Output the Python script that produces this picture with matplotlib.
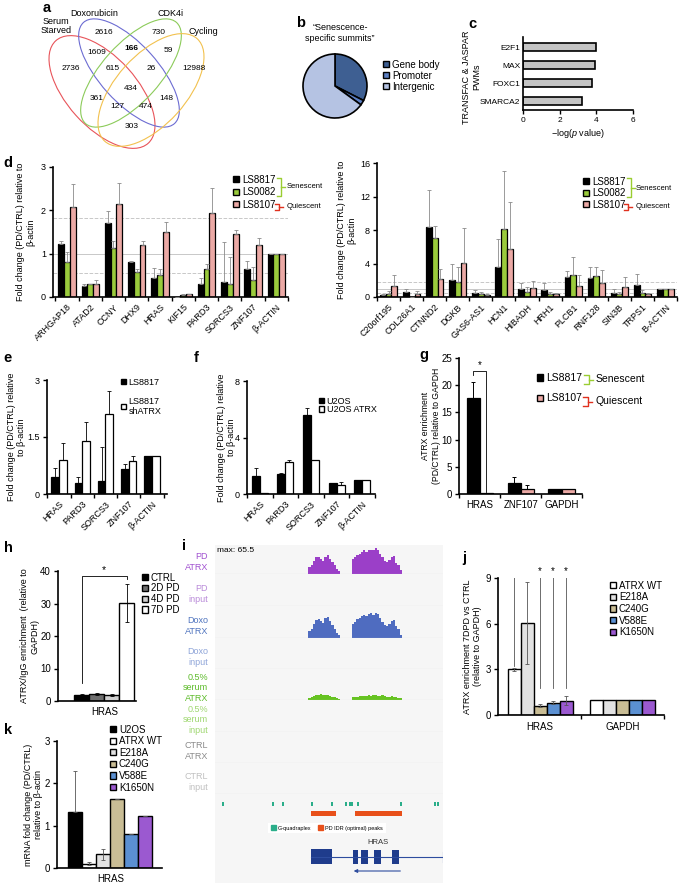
import numpy as np
import matplotlib
matplotlib.use("Agg")
import matplotlib.pyplot as plt
from matplotlib.patches import Ellipse, Patch

plt.rcParams["font.family"] = ["Liberation Sans", "DejaVu Sans"]
plt.rcParams["font.size"] = 6.5
plt.rcParams["axes.linewidth"] = 1.2
plt.rcParams["mathtext.fontset"] = "custom"
plt.rcParams["mathtext.it"] = "Liberation Sans:italic"
plt.rcParams["mathtext.rm"] = "Liberation Sans"

W, H = 685, 883

# ---------------- data ----------------
# a: venn
venn_sets = ["Serum\nStarved", "Doxorubicin", "CDK4i", "Cycling"]
venn_counts = [2616, 730, 1609, 166, 59, 2736, 615, 26, 12988, 434, 361, 148, 127, 474, 303]

# b: pie
pie_labels = ["Gene body", "Promoter", "Intergenic"]
pie_values = [32.5, 2.5, 65.0]

# c: motifs
pwm_names = ["E2F1", "MAX", "FOXC1", "SMARCA2"]
pwm_logp = [3.97, 3.92, 3.78, 3.2]

# d left
d1_genes = ["ARHGAP18", "ATAD2", "CCNY", "DHX9", "HRAS", "KIF15", "PARD3", "SORCS3", "ZNF107", "β-ACTIN"]
d1_ls8817 = [1.22, 0.26, 1.70, 0.80, 0.44, 0.01, 0.30, 0.34, 0.64, 1.0]
d1_ls0082 = [0.80, 0.29, 1.14, 0.57, 0.50, 0.05, 0.65, 0.29, 0.39, 1.0]
d1_ls8107 = [2.07, 0.31, 2.14, 1.21, 1.50, 0.06, 1.95, 1.45, 1.21, 1.0]
d1_err8817 = [0.08, 0.03, 0.28, 0.02, 0.24, 0.0, 0.15, 0.92, 0.18, 0.0]
d1_err0082 = [0.25, 0.02, 0.15, 0.07, 0.15, 0.01, 0.12, 0.64, 0.30, 0.0]
d1_err8107 = [0.53, 0.08, 0.48, 0.09, 0.24, 0.01, 0.57, 0.10, 0.15, 0.0]

# d right
d2_genes = ["C20orf195", "COL26A1", "CTNND2", "DGKB", "GAS6-AS1", "HCN1", "HIBADH",
            "HRH1", "PLCB1", "RNF128", "SIN3B", "TRPS1", "B-ACTIN"]
d2_ls8817 = [0.2, 0.55, 8.4, 2.0, 0.5, 3.6, 0.9, 0.85, 2.4, 2.25, 0.5, 1.4, 1.0]
d2_ls0082 = [0.4, 0.0, 7.1, 1.8, 0.35, 8.1, 0.65, 0.35, 2.6, 2.45, 0.35, 0.45, 0.95]
d2_ls8107 = [1.3, 0.4, 2.1, 4.1, 0.25, 5.7, 1.05, 0.3, 1.35, 1.65, 1.2, 0.3, 0.95]
d2_err8817 = [0.1, 0.45, 4.4, 1.9, 0.35, 3.3, 0.8, 0.8, 0.7, 1.3, 0.4, 1.3, 0.0]
d2_err0082 = [0.35, 0.0, 1.4, 1.8, 0.2, 7.0, 0.6, 0.3, 2.2, 1.1, 0.3, 0.4, 0.0]
d2_err8107 = [1.3, 0.3, 1.2, 4.1, 0.15, 5.6, 0.9, 0.2, 1.3, 1.6, 1.2, 0.2, 0.0]

# e
e_genes = ["HRAS", "PARD3", "SORCS3", "ZNF107", "β-ACTIN"]
e_ls8817 = [0.44, 0.30, 0.35, 0.65, 1.0]
e_err8817 = [0.24, 0.15, 0.90, 0.15, 0.0]
e_shatrx = [0.90, 1.40, 2.10, 0.88, 1.0]
e_errsh = [0.43, 0.50, 0.62, 0.12, 0.0]

# f
f_genes = ["HRAS", "PARD3", "SORCS3", "ZNF107", "β-ACTIN"]
f_u2os = [1.30, 1.45, 5.60, 0.80, 1.0]
f_erru2os = [0.55, 0.05, 0.50, 0.0, 0.0]
f_atrx = [0.10, 2.30, 2.40, 0.65, 1.0]
f_erratrx = [0.0, 0.12, 0.0, 0.20, 0.0]

# g
g_genes = ["HRAS", "ZNF107", "GAPDH"]
g_ls8817 = [17.6, 2.1, 1.0]
g_err8817 = [2.9, 1.0, 0.0]
g_ls8107 = [0.25, 1.0, 1.0]
g_err8107 = [0.0, 0.7, 0.0]

# h
h_conds = ["CTRL", "2D PD", "4D PD", "7D PD"]
h_vals = [1.9, 2.1, 1.8, 30.2]
h_errs = [0.3, 0.3, 0.4, 5.8]

# i: genome tracks (signal per bin, 100 bins across the locus)
track_names = ["PD\nATRX", "PD\ninput", "Doxo\nATRX", "Doxo\ninput", "0.5%\nserum\nATRX",
               "0.5%\nserum\ninput", "CTRL\nATRX", "CTRL\ninput"]
pd_atrx_p1 = [19, 24, 34, 43, 43, 40, 34, 45, 49, 39, 30, 22, 12, 8]
pd_atrx_p2 = [39, 44, 49, 53, 58, 61, 58, 61, 63, 61, 66, 63, 53, 44, 34, 32, 36, 44, 46, 29, 24, 10]
doxo_atrx_p1 = [17, 24, 36, 46, 50, 45, 40, 52, 55, 44, 34, 24, 12, 8]
doxo_atrx_p2 = [37, 42, 48, 53, 57, 60, 58, 62, 64, 60, 65, 63, 52, 42, 33, 30, 36, 45, 47, 30, 22, 9]
serum_atrx_p1 = [6, 9, 11, 13, 14, 15, 14, 13, 12, 11, 9, 7, 5, 3]
serum_atrx_p2 = [7, 8, 9, 10, 10, 11, 11, 12, 11, 12, 12, 11, 11, 12, 10, 9, 9, 10, 9, 8, 6, 4]
peak1_start, peak2_start = 41, 60
g4_bins = [3.5, 25.4, 29.8, 42.5, 51.3, 57.5, 59.2, 60.1, 62.7, 81.6, 96.5, 97.8]
idr_peaks = [(42.1, 53.1), (61.4, 82.0)]
hras_exons = [(42.1, 51.3), (60.5, 62.7), (64.0, 67.1), (69.7, 72.8), (77.6, 80.7)]

# j
j_variants = ["ATRX WT", "E218A", "C240G", "V588E", "K1650N"]
j_genes = ["HRAS", "GAPDH"]
j_hras = [3.0, 6.05, 0.6, 0.8, 0.95]
j_hras_err = [0.1, 2.7, 0.1, 0.1, 0.3]
j_gapdh = [1.0, 1.0, 1.0, 1.0, 1.0]

# k
k_conds = ["U2OS", "ATRX WT", "E218A", "C240G", "V588E", "K1650N"]
k_vals = [1.33, 0.1, 0.32, 1.62, 0.8, 1.24]
k_err_lo = [0.0, 0.03, 0.12, 0.0, 0.0, 0.0]
k_err_hi = [0.97, 0.03, 0.12, 0.0, 0.0, 0.0]

# ---------------- style ----------------
GREEN = "#9ACB3C"
PINK = "#EBA9A5"
BR_GREEN = "#9ACD32"
BR_RED = "#E0301E"
VAR_COLORS = ["white", "#E2E2E2", "#C9BD95", "#5B90D2", "#9B59D0"]

fig = plt.figure(figsize=(6.85, 8.83), dpi=100)


def axbox(x0, y0, x1, y1):
    return fig.add_axes([x0 / W, 1 - y1 / H, (x1 - x0) / W, (y1 - y0) / H])


def style(ax, fs=6.5):
    for s in ["top", "right"]:
        ax.spines[s].set_visible(False)
    ax.tick_params(direction="out", length=3, width=1, labelsize=fs, pad=2)
    ax.set_facecolor("none")


def square_legend(ax, labels, colors, x, y, dy, fs=6.5, sq=6.0):
    fpx = fs * 100 / 72
    handles = [Patch(facecolor=c, edgecolor="black", linewidth=1.0) for c in colors]
    th = 1.12 * fpx
    return ax.legend(handles, labels, loc="upper left",
                     bbox_to_anchor=(x / W, 1 - (y - th / 2) / H),
                     bbox_transform=fig.transFigure, frameon=False, fontsize=fs,
                     handlelength=sq / fpx, handleheight=sq / fpx, handletextpad=0.3,
                     labelspacing=dy / fpx - 1.12, borderpad=0, borderaxespad=0)


def grouped(ax, series, errs, colors, w, ecolor="black", elw=0.6):
    n = len(series)
    x = np.arange(len(series[0]))
    for k in range(n):
        pos = x + (k - (n - 1) / 2) * w
        ax.bar(pos, series[k], w, color=colors[k], edgecolor="black", linewidth=0.9, zorder=2)
        e = np.asarray(errs[k])
        ax.errorbar(pos, series[k], yerr=[np.zeros_like(e), e], fmt="none", ecolor=ecolor,
                    elinewidth=elw, capsize=1.3, capthick=elw, zorder=3)
    return x


def cat_ticks(ax, x, labels, rot=45, fs=6.5):
    ax.set_xticks(x)
    ax.set_xticklabels(labels, rotation=rot, ha="right" if rot else "center",
                       rotation_mode="anchor", fontsize=fs)
    ax.tick_params(axis="x", which="major", length=0, pad=4)
    ax.set_xticks(np.append(x - 0.5, x[-1] + 0.5), minor=True)
    ax.tick_params(axis="x", which="minor", length=3, width=1)


# ---------------- b: pie ----------------
axb = axbox(295, 46, 375, 126)
axb.pie(pie_values, colors=["#3E5F92", "#5C7FC2", "#B5C3E3"], startangle=90, counterclock=False,
        wedgeprops=dict(edgecolor="black", linewidth=1.2))
axb.set_aspect("equal")
square_legend(axb, pie_labels, ["#3E5F92", "#5C7FC2", "#B5C3E3"], 383, 65, 12, fs=7, sq=6)

# ---------------- c ----------------
axc = axbox(523, 37, 633, 110)
style(axc, fs=6)
yy = np.arange(len(pwm_names))[::-1]
axc.barh(yy, pwm_logp, 0.45, color="#C4C4C4", edgecolor="black", linewidth=1.2)
axc.set_xlim(0, 6)
axc.set_ylim(-0.5, 3.56)
axc.set_xticks([0, 2, 4, 6])
axc.set_yticks(yy)
axc.set_yticklabels(pwm_names)
axc.tick_params(axis="y", length=0)
axc.set_xlabel("−log($\\it{p}$ value)", fontsize=6.5, labelpad=2)
axc.set_ylabel("TRANSFAC & JASPAR\nPWMs", fontsize=6.5)
axc.yaxis.set_label_coords(-0.38, 0.45)

# ---------------- d left ----------------
axd1 = axbox(53, 167, 288, 297)
style(axd1)
for yv, ls in [(1.83, "--"), (1.0, "-"), (0.56, "--")]:
    axd1.axhline(yv, color="#C8C8C8", lw=0.7, ls=ls, zorder=0)
x = grouped(axd1, [d1_ls8817, d1_ls0082, d1_ls8107], [d1_err8817, d1_err0082, d1_err8107],
            ["black", GREEN, PINK], 0.25, ecolor="#8A8A8A")
axd1.set_xlim(-0.6, 9.4)
axd1.set_ylim(0, 3)
axd1.set_yticks([0, 1, 2, 3])
cat_ticks(axd1, x, d1_genes)
axd1.set_ylabel("Fold change (PD/CTRL) relative to\nβ-actin", fontsize=6.5)
axd1.yaxis.set_label_coords(-0.077, 0.5)
square_legend(axd1, ["LS8817", "LS0082", "LS8107"], ["black", GREEN, PINK], 233, 180, 13.5, fs=7)

# ---------------- d right ----------------
axd2 = axbox(377, 163, 677, 297)
style(axd2)
for yv, ls in [(1.8, "--"), (1.0, "-"), (0.5, "--")]:
    axd2.axhline(yv, color="#C8C8C8", lw=0.7, ls=ls, zorder=0)
x = grouped(axd2, [d2_ls8817, d2_ls0082, d2_ls8107], [d2_err8817, d2_err0082, d2_err8107],
            ["black", GREEN, PINK], 0.25, ecolor="#8A8A8A")
axd2.set_xlim(-0.47, 12.4)
axd2.set_ylim(0, 16)
axd2.set_yticks([0, 4, 8, 12, 16])
cat_ticks(axd2, x, d2_genes)
axd2.set_ylabel("Fold change (PD/CTRL) relative to\nβ-actin", fontsize=6.5)
axd2.yaxis.set_label_coords(-0.07, 0.5)
square_legend(axd2, ["LS8817", "LS0082", "LS8107"], ["black", GREEN, PINK], 583, 182, 12.5, fs=7)

# ---------------- e ----------------
axe = axbox(47, 380, 167, 494)
style(axe)
x = grouped(axe, [e_ls8817, e_shatrx], [e_err8817, e_errsh], ["black", "white"], 0.33)
axe.set_xlim(-0.52, 4.65)
axe.set_ylim(0, 3)
axe.set_yticks([0, 1.5, 3])
axe.set_yticklabels(["0", "1.5", "3"])
cat_ticks(axe, x, e_genes)
axe.set_ylabel("Fold change (PD/CTRL) relative\nto β-actin", fontsize=6.5)
axe.yaxis.set_label_coords(-0.175, 0.5)
square_legend(axe, ["LS8817", "LS8817\nshATRX"], ["black", "white"], 121, 383, 19.7, fs=6.5, sq=5)

# ---------------- f ----------------
axf = axbox(247, 381, 375, 494)
style(axf)
x = grouped(axf, [f_u2os, f_atrx], [f_erru2os, f_erratrx], ["black", "white"], 0.31)
axf.set_xlim(-0.5, 4.5)
axf.set_ylim(0, 8)
axf.set_yticks([0, 4, 8])
cat_ticks(axf, x, f_genes)
axf.set_ylabel("Fold change (PD/CTRL) relative\nto β-actin", fontsize=6.5)
axf.yaxis.set_label_coords(-0.085, 0.5)
square_legend(axf, ["U2OS", "U2OS ATRX"], ["black", "white"], 319, 402, 9.5, fs=6.5, sq=5)

# ---------------- g ----------------
axg = axbox(459, 358, 582, 494)
style(axg, fs=7)
x = grouped(axg, [g_ls8817, g_ls8107], [g_err8817, g_err8107], ["black", PINK], 0.32, elw=0.7)
axg.set_xlim(-0.51, 2.5)
axg.set_ylim(0, 25)
axg.set_yticks([0, 5, 10, 15, 20, 25])
cat_ticks(axg, x, g_genes, rot=0, fs=7)
axg.set_ylabel("ATRX enrichment\n(PD/CTRL) relative to GAPDH", fontsize=6.2)
axg.yaxis.set_label_coords(-0.15, 0.5)
axg.plot([-0.16, -0.16, 0.16, 0.16], [21.8, 22.6, 22.6, 0.4], color="black", lw=0.6)
axg.text(0.0, 22.7, "*", ha="center", va="bottom", fontsize=7)
square_legend(axg, ["LS8817", "LS8107"], ["black", PINK], 537, 379, 22, fs=7.5, sq=6)

# ---------------- h ----------------
axh = axbox(58, 571, 136, 701)
style(axh, fs=7)
hx = np.arange(len(h_conds))
h_cols = ["black", "#6E6E6E", "#D0D0D0", "white"]
axh.bar(hx, h_vals, 1.0, color=h_cols, edgecolor="black", linewidth=1.0, zorder=2)
axh.errorbar(hx, h_vals, yerr=h_errs, fmt="none", ecolor="black", elinewidth=0.6,
             capsize=1.5, capthick=0.6, zorder=3)
axh.set_xlim(-1.57, 3.6)
axh.set_ylim(0, 40)
axh.set_yticks([0, 10, 20, 30, 40])
axh.set_xticks([1.5])
axh.set_xticklabels(["HRAS"], fontsize=7)
axh.tick_params(axis="x", length=0, pad=4)
axh.set_ylabel("ATRX/IgG enrichment  (relative to\nGAPDH)", fontsize=6.5)
axh.yaxis.set_label_coords(-0.24, 0.5)
axh.plot([0, 0, 3, 3], [5.5, 38.5, 38.5, 37.5], color="black", lw=0.6)
axh.text(1.5, 38.7, "*", ha="center", va="bottom", fontsize=7.5)
square_legend(axh, h_conds, h_cols, 142, 578, 11.7, fs=7, sq=6)

# ---------------- i: tracks ----------------
track_signals = []
for p1, p2 in [(pd_atrx_p1, pd_atrx_p2), (None, None), (doxo_atrx_p1, doxo_atrx_p2), (None, None),
               (serum_atrx_p1, serum_atrx_p2), (None, None), (None, None), (None, None)]:
    s = np.zeros(100)
    if p1 is not None:
        s[peak1_start:peak1_start + len(p1)] = p1
        s[peak2_start:peak2_start + len(p2)] = p2
    track_signals.append(s)
fill_cols = ["#9B3FC8", "#B98AD9", "#4F6CC0", "#8EA4D8", "#66C322", "#A4D874", "#8A8A8A", "#BBBBBB"]
label_cols = ["#A050D0", "#B98AD9", "#4E73BE", "#8EA4D8", "#5DBB2A", "#9FD770", "#8A8A8A", "#C0C0C0"]
baselines = [574, 606, 638, 669, 700, 732, 763, 794]
axi_bg = axbox(215, 545, 443, 883)
axi_bg.set_facecolor("#F6F6F6")
axi_bg.set_xticks([])
axi_bg.set_yticks([])
for s in axi_bg.spines.values():
    s.set_visible(False)
for k, (sig, yb) in enumerate(zip(track_signals, baselines)):
    ax = axbox(215, yb - 29, 443, yb)
    ax.bar(np.arange(100), sig, 1.0, color=fill_cols[k], linewidth=0, align="edge")
    ax.axhline(0, color="#CFCFCF", lw=0.8)
    ax.set_xlim(0, 100)
    ax.set_ylim(0, 75)
    ax.axis("off")
    if k == 0:
        ax.text(1, 62, "max: 65.5", fontsize=6, va="center")

axa = axbox(215, 795, 443, 883)
axa.set_xlim(0, 100)
axa.set_ylim(883, 795)
axa.axis("off")
for gx in g4_bins:
    axa.bar(gx, 4, 0.9, bottom=802, color="#2BAE8A", linewidth=0)
for a0, a1 in idr_peaks:
    axa.bar(a0, 5, a1 - a0, bottom=811, color="#E8501A", linewidth=0, align="edge")
axa.plot([hras_exons[0][0], 100], [857, 857], color="#2D4C9E", lw=0.8)
axa.plot([100, 100], [852, 862], color="#2D4C9E", lw=0.8)
for a0, a1 in hras_exons:
    axa.bar(a0, 15 if a0 < 50 else 14, a1 - a0, bottom=849 if a0 < 50 else 850,
            color="#1F3C8C", linewidth=0, align="edge")
axa.annotate("", xy=(59.6, 871), xytext=(82.5, 871),
             arrowprops=dict(arrowstyle="-|>", color="#2D4C9E", lw=0.8, mutation_scale=5))
axa.text(71.5, 843, "HRAS", fontsize=5.5, ha="center", va="center", color="#333333")
axa.legend([Patch(color="#2BAE8A"), Patch(color="#E8501A")],
           ["G-quadraplex", "PD IDR (optimal) peaks"], ncol=2, loc="center",
           bbox_to_anchor=(327 / W, 1 - 828 / H), bbox_transform=fig.transFigure,
           fontsize=4, handlelength=0.9, handleheight=0.9, handletextpad=0.4,
           columnspacing=1.2, frameon=True, facecolor="white", edgecolor="none",
           framealpha=1, fancybox=False, borderpad=0.5)

# ---------------- j ----------------
axj = axbox(498, 578, 664, 715)
style(axj, fs=7)
wj = 0.157
for k in range(len(j_variants)):
    pos = np.array([0, 1]) + (k - 2) * wj
    axj.bar(pos, [j_hras[k], j_gapdh[k]], wj, color=VAR_COLORS[k], edgecolor="black",
            linewidth=1.0, zorder=2)
    axj.errorbar(pos[0], j_hras[k], yerr=j_hras_err[k], fmt="none", ecolor="#555555",
                 elinewidth=0.6, capsize=1.3, capthick=0.6, zorder=3)
axj.set_xlim(-0.51, 1.5)
axj.set_ylim(0, 9)
axj.set_yticks([0, 3, 6, 9])
axj.set_xticks([0, 1])
axj.set_xticklabels(j_genes, fontsize=7)
axj.tick_params(axis="x", which="major", length=0, pad=5)
axj.set_xticks([0.5, 1.5], minor=True)
axj.tick_params(axis="x", which="minor", length=3, width=1)
axj.set_ylabel("ATRX enrichment 7DPD vs CTRL\n(relative to GAPDH)", fontsize=6.5)
axj.yaxis.set_label_coords(-0.096, 0.5)
axj.plot([-2 * wj, -2 * wj, 2 * wj], [3.2, 9.05, 9.05], color="#555555", lw=0.6)
for k in (2, 3, 4):
    axj.plot([(k - 2) * wj] * 2, [9.05, 1.75], color="#555555", lw=0.6)
    axj.text((k - 2) * wj, 9.15, "*", ha="center", va="bottom", fontsize=7)
square_legend(axj, j_variants, VAR_COLORS, 610, 586, 12.6, fs=7, sq=6)

# ---------------- k ----------------
axk = axbox(57, 741, 162, 868)
style(axk, fs=7)
kx = np.arange(len(k_conds))
k_cols = ["black"] + VAR_COLORS
axk.bar(kx, k_vals, 1.0, color=k_cols, edgecolor="black", linewidth=1.0, zorder=2)
axk.errorbar(kx, k_vals, yerr=[k_err_lo, k_err_hi], fmt="none", ecolor="#555555",
             elinewidth=0.6, capsize=1.5, capthick=0.6, zorder=3)
axk.set_xlim(-1.32, 6.18)
axk.set_ylim(0, 3)
axk.set_yticks([0, 1, 2, 3])
axk.set_xticks([2.5])
axk.set_xticklabels(["HRAS"], fontsize=7)
axk.tick_params(axis="x", length=0, pad=4)
axk.set_ylabel("mRNA fold change (PD/CTRL)\nrelative to β-actin", fontsize=6.5)
axk.yaxis.set_label_coords(-0.13, 0.5)
square_legend(axk, k_conds, k_cols, 110, 730, 12.5, fs=7, sq=6)

# ---------------- overlay: venn, letters, brackets, labels ----------------
ov = fig.add_axes([0, 0, 1, 1])
ov.set_xlim(0, W)
ov.set_ylim(H, 0)
ov.axis("off")
ov.set_facecolor("none")

for (cx, cy, ew, eh, ang, col) in [(102, 92, 138, 70, 48, "#E8545A"), (129, 73, 136, 58, 48, "#6C6CD2"),
                                    (131, 73, 136, 58, -48, "#8CCB5A"), (151, 90, 138, 70, -48, "#F2C14E")]:
    ov.add_patch(Ellipse((cx, cy), ew, eh, angle=ang, fill=False, edgecolor=col, lw=0.8))
venn_pos = [(104, 32), (159, 32), (97, 52), (131, 49), (168, 51), (71, 69), (113, 69), (151, 69),
            (194, 69), (131, 89), (97, 99), (166, 99), (117, 107), (146, 107), (132, 126)]
for (px, py), n in zip(venn_pos, venn_counts):
    ov.text(px, py, str(n), ha="center", va="center", fontsize=6,
            fontweight="bold" if n == 166 else "normal")
for (px, py), name in zip([(56, 26), (94, 13), (171, 13), (203, 31)], venn_sets):
    ov.text(px, py, name, ha="center", va="center", fontsize=6.5, linespacing=1.1)

ov.text(340, 33, "“Senescence-\nspecific summits”", ha="center", va="center", fontsize=6.5,
        linespacing=1.3)

for letter, (px, py) in {"a": (43, 8), "b": (296, 23), "c": (468, 24), "d": (3, 163), "e": (3, 358),
                         "f": (194, 358), "g": (419, 355), "h": (4, 548), "i": (182, 546),
                         "j": (462, 558), "k": (4, 730)}.items():
    ov.text(px, py, letter, fontsize=10.5, fontweight="bold", ha="left", va="center")


def brace(x, y0, y1, col, w=4, tip=4):
    ym = (y0 + y1) / 2
    ov.plot([x, x + w, x + w, x], [y0, y0, y1, y1], color=col, lw=1.0)
    ov.plot([x + w, x + w + tip], [ym, ym], color=col, lw=1.0)


brace(277, 178, 196, BR_GREEN)
brace(275, 204, 210, BR_RED)
ov.text(287, 187, "Senescent", fontsize=5.5, va="center")
ov.text(287, 206, "Quiescent", fontsize=5.5, va="center")
brace(627, 178, 197, BR_GREEN)
brace(624, 204, 210, BR_RED)
ov.text(636, 188, "Senescent", fontsize=5.5, va="center")
ov.text(636, 206, "Quiescent", fontsize=5.5, va="center")
brace(584, 375, 384, BR_GREEN, w=5)
brace(583, 397, 406, BR_RED, w=5)
ov.text(596, 379, "Senescent", fontsize=7.5, va="center")
ov.text(596, 401, "Quiescent", fontsize=7.5, va="center")

for name, yb, col in zip(track_names, baselines, label_cols):
    ov.text(208, yb - 12, name, color=col, ha="right", va="center", fontsize=6.5, linespacing=1.25)

fig.savefig("out.png", dpi=100)
